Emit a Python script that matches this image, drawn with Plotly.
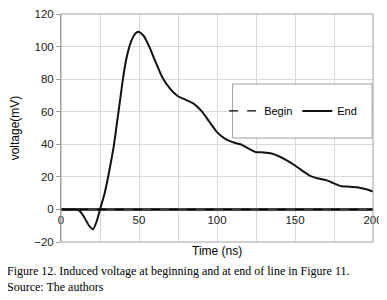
import plotly.graph_objects as go

# Data
time_ns = [0, 5, 10, 12, 15, 18, 20.5, 23, 25, 28, 30, 32, 34, 36, 38, 40, 42, 44, 46, 48, 50,
           53, 57, 60, 65, 70, 75, 80, 85, 90, 95, 100, 105, 110, 115, 120, 125, 130, 135,
           140, 145, 150, 155, 160, 165, 170, 175, 180, 185, 190, 195, 200]
end_mv = [0, 0, 0, -1, -5, -10, -12.2, -7, 0, 10, 19, 29, 40, 54, 68, 82, 93, 100.5, 105.5, 108.3, 109,
          106.5, 99, 92, 81, 74, 69.5, 67.3, 65, 60.5, 54, 47.5, 43.5, 41.3, 40, 37.5, 35.2, 35, 34.3,
          32.5, 30, 27, 23.5, 20.5, 19, 18, 16, 14.2, 14, 13.6, 12.5, 11]
begin_t = [0, 50, 100, 150, 200]
begin_mv = [0, 0, 0, 0, 0]

x_tick_vals = [0, 50, 100, 150, 200]
y_tick_vals = [-20, 0, 20, 40, 60, 80, 100, 120]

axis_font = dict(family="Liberation Sans, Arial, sans-serif", size=11.5, color="#222222")

fig = go.Figure()
fig.add_trace(go.Scatter(x=begin_t, y=begin_mv, name="Begin", mode="lines",
                         line=dict(color="#000000", width=1.3, dash="dash")))
fig.add_trace(go.Scatter(x=time_ns, y=end_mv, name="End", mode="lines",
                         line=dict(color="#111111", width=2, shape="spline", smoothing=0.6)))

# the page body has an 8px margin, so the figure is offset by 8px; margins compensate
fig.update_layout(
    width=387, height=300,
    margin=dict(l=53, r=22, t=6, b=66, autoexpand=False),
    paper_bgcolor="white", plot_bgcolor="white",
    font=axis_font,
    showlegend=True,
    legend=dict(orientation="h", x=0.744, xanchor="center", y=0.575, yanchor="middle",
                bgcolor="rgba(0,0,0,0)", borderwidth=0,
                font=dict(family="Liberation Sans, Arial, sans-serif", size=11, color="#000000"),
                itemwidth=30),
    xaxis=dict(range=[0, 200], tickvals=x_tick_vals, showgrid=True, gridcolor="#d9d9d9",
               minor=dict(dtick=25, showgrid=True, gridcolor="#d9d9d9"),
               anchor="free", position=20/140, showline=False, zeroline=False, automargin=False,
               ticks="", tickfont=axis_font, ticklabelstandoff=2),
    yaxis=dict(range=[-20, 120], tickvals=y_tick_vals, showgrid=True, gridcolor="#d9d9d9",
               showline=True, linecolor="#a0a0a0", linewidth=1, automargin=False,
               ticks="outside", ticklen=4, tickcolor="#a0a0a0",
               zeroline=True, zerolinecolor="#404040", zerolinewidth=2.5,
               tickfont=axis_font,
               title=dict(text="voltage(mV)", font=dict(family="Liberation Sans, Arial, sans-serif",
                                                       size=12, color="#000000"), standoff=16)),
)

fig.add_shape(type="rect", xref="paper", yref="paper", x0=0, x1=1, y0=0, y1=1,
              line=dict(color="#a0a0a0", width=1), layer="above")
# legend frame
fig.add_shape(type="rect", xref="paper", yref="paper", x0=0.55, x1=0.997, y0=0.456, y1=0.693,
              line=dict(color="#a0a0a0", width=1), fillcolor="white", layer="above")

fig.add_annotation(text="Time (ns)", xref="paper", yref="paper", x=0.5, y=-0.04,
                   xanchor="center", yanchor="middle", showarrow=False,
                   font=dict(family="Liberation Sans, Arial, sans-serif", size=12, color="#000000"))
fig.add_annotation(text="Figure 12. Induced voltage at beginning and at end of line in Figure 11.",
                   xref="paper", yref="paper", x=-0.1795, y=-0.127, xanchor="left", yanchor="middle",
                   showarrow=False,
                   font=dict(family="Liberation Serif, Times New Roman, serif", size=12, color="#000000"))
fig.add_annotation(text="Source: The authors",
                   xref="paper", yref="paper", x=-0.1795, y=-0.197, xanchor="left", yanchor="middle",
                   showarrow=False,
                   font=dict(family="Liberation Serif, Times New Roman, serif", size=12, color="#000000"))

fig.write_html("out.html")
